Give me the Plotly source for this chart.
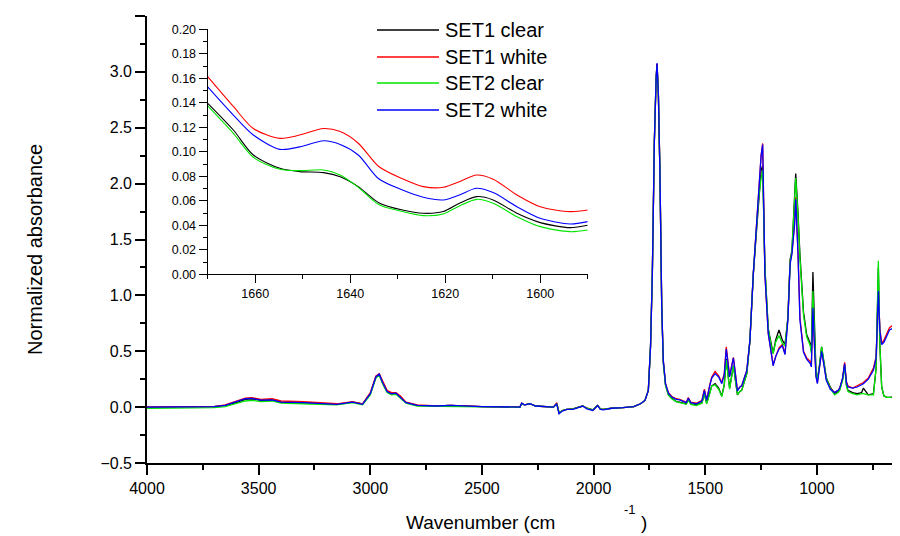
import plotly.graph_objects as go

# ---------------- main spectrum data (wavenumber, cm-1) ----------------
wavenumber = [
    4000, 3800, 3700, 3650, 3600, 3560, 3530, 3490, 3440, 3400,
    3300, 3150, 3080, 3050, 3035, 3000, 2975, 2960, 2945, 2925,
    2905, 2885, 2865, 2840, 2790, 2700, 2640, 2500, 2330, 2322,
    2310, 2285, 2260, 2180, 2165, 2155, 2140, 2120, 2093, 2060,
    2049, 2030, 2004, 1982, 1970, 1957, 1920, 1869, 1820, 1790,
    1770, 1755, 1745, 1737, 1728, 1720, 1716, 1710, 1703, 1695,
    1688, 1678, 1665, 1650, 1630, 1615, 1600, 1585, 1576, 1565,
    1540, 1515, 1504, 1494, 1480, 1471, 1456, 1440, 1426, 1415,
    1406, 1391, 1374, 1356, 1345, 1337, 1314, 1300, 1285, 1262,
    1250, 1243, 1233, 1218, 1205, 1196, 1185, 1170, 1155, 1143,
    1130, 1120, 1112, 1100, 1095, 1085, 1076, 1060, 1046, 1030,
    1025, 1018, 1010, 1004, 998, 990, 979, 968, 958, 940,
    921, 905, 898, 885, 876, 868, 861, 840, 820, 800,
    792, 770, 747, 735, 725, 718, 710, 700, 687, 675,
    655, 645, 636, 628,
]

set1_clear = [
    0.0, 0.0, 0.005, 0.015, 0.04, 0.07, 0.075, 0.06, 0.065, 0.045,
    0.04, 0.025, 0.045, 0.035, 0.025, 0.12, 0.27, 0.295, 0.22, 0.14,
    0.12, 0.125, 0.09, 0.04, 0.015, 0.01, 0.015, 0.005, 0.0, 0.035,
    0.02, 0.03, 0.01, 0.0, 0.03, -0.05, -0.03, -0.02, -0.015, 0.005,
    0.01, -0.01, -0.025, 0.015, -0.015, -0.02, -0.01, -0.005, 0.005, 0.03,
    0.06, 0.15, 0.55, 1.2, 2.38, 2.95, 3.07, 2.8, 2.09, 0.9,
    0.4, 0.2, 0.11, 0.08, 0.05, 0.045, 0.035, 0.03, 0.07, 0.03,
    0.02, 0.04, 0.12, 0.035, 0.13, 0.19, 0.21, 0.17, 0.1, 0.2,
    0.43, 0.17, 0.37, 0.11, 0.14, 0.15, 0.3, 0.6, 1.19, 1.85,
    2.12, 2.16, 1.25, 0.7, 0.55, 0.48, 0.6, 0.69, 0.6, 0.56,
    0.8, 1.32, 1.4, 1.85, 2.09, 1.75, 1.36, 0.85, 0.65, 0.57,
    0.5, 1.21, 0.6, 0.3, 0.25, 0.35, 0.54, 0.4, 0.26, 0.18,
    0.12, 0.14, 0.16, 0.25, 0.38, 0.2, 0.15, 0.13, 0.12, 0.13,
    0.17, 0.11, 0.12, 0.35, 1.25, 0.55, 0.18, 0.1, 0.088, 0.088,
    0.09, 0.15, 0.27, 0.26,
]

set1_white = [
    0.0, 0.0, 0.005, 0.02, 0.05, 0.08, 0.085, 0.07, 0.075, 0.055,
    0.048, 0.03, 0.05, 0.035, 0.03, 0.13, 0.28, 0.3, 0.23, 0.15,
    0.13, 0.13, 0.1, 0.045, 0.02, 0.012, 0.015, 0.005, 0.0, 0.035,
    0.02, 0.03, 0.01, 0.0, 0.04, -0.05, -0.03, -0.02, -0.015, 0.005,
    0.01, -0.01, -0.025, 0.015, -0.015, -0.02, -0.01, -0.005, 0.005, 0.03,
    0.06, 0.15, 0.55, 1.2, 2.38, 2.95, 3.07, 2.8, 2.09, 0.9,
    0.42, 0.21, 0.13, 0.095, 0.075, 0.07, 0.055, 0.045, 0.085, 0.045,
    0.035, 0.06, 0.16, 0.065, 0.2, 0.27, 0.32, 0.28, 0.22, 0.3,
    0.54, 0.28, 0.445, 0.15, 0.18, 0.19, 0.33, 0.6, 1.19, 1.94,
    2.25, 2.36, 1.19, 0.66, 0.48, 0.38, 0.45, 0.53, 0.56, 0.48,
    0.8, 1.3, 1.38, 1.65, 1.88, 1.4, 0.8, 0.5, 0.44, 0.41,
    0.38, 0.86, 0.5, 0.28, 0.22, 0.33, 0.5, 0.38, 0.25, 0.17,
    0.13, 0.15, 0.17, 0.26, 0.4, 0.23, 0.19, 0.17, 0.19, 0.21,
    0.22, 0.26, 0.35, 0.45, 1.04, 0.7, 0.57, 0.6, 0.66, 0.71,
    0.74, 0.76, 0.77, 0.78,
]

set2_clear = [
    -0.01, -0.01, -0.005, 0.005, 0.03, 0.055, 0.06, 0.05, 0.055, 0.035,
    0.03, 0.02, 0.04, 0.03, 0.02, 0.11, 0.26, 0.285, 0.21, 0.13,
    0.11, 0.115, 0.08, 0.035, 0.01, 0.008, 0.012, 0.003, -0.002, 0.03,
    0.02, 0.03, 0.01, 0.0, 0.03, -0.05, -0.03, -0.02, -0.015, 0.005,
    0.01, -0.01, -0.025, 0.015, -0.015, -0.02, -0.01, -0.005, 0.005, 0.03,
    0.06, 0.15, 0.55, 1.2, 2.38, 2.95, 3.05, 2.8, 2.09, 0.9,
    0.4, 0.19, 0.11, 0.075, 0.05, 0.04, 0.03, 0.025, 0.065, 0.025,
    0.015, 0.035, 0.12, 0.03, 0.12, 0.19, 0.2, 0.16, 0.094, 0.2,
    0.42, 0.16, 0.37, 0.113, 0.14, 0.15, 0.3, 0.6, 1.19, 1.85,
    2.05, 2.12, 1.25, 0.7, 0.55, 0.48, 0.58, 0.64, 0.57, 0.55,
    0.8, 1.3, 1.4, 1.82, 2.05, 1.72, 1.33, 0.82, 0.63, 0.55,
    0.48, 1.04, 0.58, 0.3, 0.25, 0.35, 0.54, 0.4, 0.26, 0.17,
    0.11, 0.13, 0.15, 0.24, 0.37, 0.19, 0.14, 0.12, 0.11, 0.12,
    0.12, 0.11, 0.11, 0.35, 1.31, 0.55, 0.18, 0.1, 0.088, 0.088,
    0.09, 0.15, 0.27, 0.26,
]

set2_white = [
    0.0, 0.0, 0.005, 0.015, 0.045, 0.075, 0.078, 0.062, 0.065, 0.045,
    0.04, 0.025, 0.045, 0.035, 0.025, 0.12, 0.27, 0.295, 0.22, 0.14,
    0.12, 0.125, 0.09, 0.04, 0.015, 0.01, 0.015, 0.005, 0.0, 0.035,
    0.02, 0.03, 0.01, 0.0, 0.03, -0.06, -0.035, -0.02, -0.02, 0.005,
    0.01, -0.015, -0.03, 0.015, -0.02, -0.025, -0.01, -0.005, 0.005, 0.03,
    0.06, 0.15, 0.55, 1.2, 2.38, 2.95, 3.08, 2.8, 2.09, 0.9,
    0.42, 0.21, 0.125, 0.09, 0.07, 0.065, 0.05, 0.04, 0.08, 0.04,
    0.03, 0.055, 0.15, 0.06, 0.19, 0.26, 0.3, 0.27, 0.21, 0.29,
    0.52, 0.27, 0.44, 0.145, 0.18, 0.19, 0.327, 0.6, 1.19, 1.94,
    2.25, 2.35, 1.19, 0.66, 0.47, 0.37, 0.45, 0.52, 0.55, 0.47,
    0.78, 1.28, 1.37, 1.63, 1.86, 1.38, 0.78, 0.49, 0.43, 0.39,
    0.36, 0.89, 0.5, 0.27, 0.21, 0.32, 0.5, 0.37, 0.24, 0.16,
    0.13, 0.15, 0.17, 0.26, 0.39, 0.22, 0.18, 0.17, 0.18, 0.2,
    0.21, 0.25, 0.33, 0.44, 1.04, 0.68, 0.56, 0.58, 0.63, 0.69,
    0.71, 0.73, 0.74, 0.75,
]

# ---------------- inset data (zoom 1670-1590 cm-1) ----------------
inset_wavenumber = [1670, 1664.6, 1660.4, 1654.8, 1650.6, 1645.6, 1642.1, 1638.3, 1634,
                    1629, 1624.6, 1620.4, 1617, 1613.4, 1609.9, 1604.9, 1600, 1593.7, 1590]
inset_set1_clear = [0.1396, 0.1178, 0.0974, 0.0865, 0.0838, 0.0830, 0.0797, 0.0716, 0.0585,
                    0.0525, 0.0498, 0.0512, 0.0580, 0.0634, 0.0607, 0.0498, 0.0422, 0.0381, 0.0400]
inset_set1_white = [0.1614, 0.1370, 0.1190, 0.1110, 0.1137, 0.1190, 0.1165, 0.1070, 0.0880,
                    0.0780, 0.0716, 0.0710, 0.0756, 0.0810, 0.0776, 0.0648, 0.0552, 0.0512, 0.0525]
inset_set2_clear = [0.1374, 0.1150, 0.0955, 0.0857, 0.0846, 0.0852, 0.0810, 0.0710, 0.0570,
                    0.0512, 0.0479, 0.0493, 0.0558, 0.0612, 0.0580, 0.0470, 0.0389, 0.0348, 0.0362]
inset_set2_white = [0.1530, 0.1300, 0.1137, 0.1020, 0.1040, 0.1090, 0.1060, 0.0974, 0.0780,
                    0.0688, 0.0629, 0.0607, 0.0648, 0.0702, 0.0667, 0.0552, 0.0457, 0.0411, 0.0430]

series_names = ["SET1 clear", "SET1 white", "SET2 clear", "SET2 white"]
series_colors = ["#000000", "#ff0000", "#00e600", "#0000ff"]
main_series = [set1_clear, set1_white, set2_clear, set2_white]
inset_series = [inset_set1_clear, inset_set1_white, inset_set2_clear, inset_set2_white]

FONT = "Liberation Sans, Arial, sans-serif"

fig = go.Figure()
for name, color, ys in zip(series_names, series_colors, main_series):
    fig.add_trace(go.Scatter(x=wavenumber, y=ys, mode="lines", name=name,
                             line=dict(color=color, width=1.3), showlegend=False,
                             xaxis="x", yaxis="y"))
for name, color, ys in zip(series_names, series_colors, inset_series):
    fig.add_trace(go.Scatter(x=inset_wavenumber, y=ys, mode="lines", name=name,
                             line=dict(color=color, width=1.1, shape="spline", smoothing=0.8),
                             showlegend=False, xaxis="x2", yaxis="y2"))

# The page body has an 8px margin, so the figure sits at (8, 8) in the window.
OFF = 8
FIG_W, FIG_H = 900 - OFF, 536 - OFF
# plot area geometry in window pixels
L, R, T, B = 147, 900, 16, 463
W, H = R - L, B - T
def px(xp):
    return (xp - L) / W
def py(yp):
    return (B - yp) / H

main_axis = dict(showline=True, linecolor="black", linewidth=1.6, ticks="outside",
                 ticklen=10, tickwidth=1.6, tickcolor="black", showgrid=False,
                 zeroline=False, tickfont=dict(family=FONT, size=16, color="black"))
inset_axis = dict(showline=True, linecolor="black", linewidth=1.3, ticks="outside",
                  ticklen=8, tickwidth=1.3, tickcolor="black", showgrid=False,
                  zeroline=False, tickfont=dict(family=FONT, size=12.5, color="black"))

fig.update_layout(
    width=FIG_W, height=FIG_H,
    margin=dict(l=L - OFF, r=(OFF + FIG_W) - R, t=T - OFF, b=(OFF + FIG_H) - B),
    paper_bgcolor="white", plot_bgcolor="white",
    font=dict(family=FONT, color="black"),
    xaxis=dict(main_axis, range=[4000, 628], tick0=4000, dtick=500, domain=[0, 1],
               minor=dict(dtick=250, ticklen=5, tickwidth=1.6, tickcolor="black", ticks="outside")),
    yaxis=dict(main_axis, range=[-0.5, 3.5], tick0=0, dtick=0.5, tickformat=".1f", domain=[0, 1],
               minor=dict(dtick=0.25, ticklen=5, tickwidth=1.6, tickcolor="black", ticks="outside")),
    xaxis2=dict(inset_axis, range=[1670, 1590], tick0=1600, dtick=20,
                domain=[px(207.7), px(587.7)], anchor="y2",
                minor=dict(dtick=10, ticklen=4, tickwidth=1.3, tickcolor="black", ticks="outside")),
    yaxis2=dict(inset_axis, range=[0, 0.2], tick0=0, dtick=0.02, tickformat=".2f",
                domain=[py(274.3), py(29.3)], anchor="x2",
                minor=dict(dtick=0.01, ticklen=4, tickwidth=1.3, tickcolor="black", ticks="outside")),
)

# manual legend (long line swatches like the original)
legend_rows = [30, 57, 83, 110]
for name, color, yrow in zip(series_names, series_colors, legend_rows):
    fig.add_shape(type="line", xref="paper", yref="paper",
                  x0=px(377), x1=px(439), y0=py(yrow), y1=py(yrow),
                  line=dict(color=color, width=1.3))
    fig.add_annotation(xref="paper", yref="paper", x=px(443), y=py(yrow),
                       xanchor="left", yanchor="middle", showarrow=False,
                       text=name, font=dict(family=FONT, size=20, color="black"))

# axis titles
fig.add_annotation(xref="paper", yref="paper", x=px(35), y=py(250), textangle=-90,
                   xanchor="center", yanchor="middle", showarrow=False,
                   text="Normalized absorbance", font=dict(family=FONT, size=20, color="black"))
fig.add_annotation(xref="paper", yref="paper", x=px(404), y=py(522),
                   xanchor="left", yanchor="middle", showarrow=False,
                   text="Wavenumber (cm", font=dict(family=FONT, size=19, color="black"))
fig.add_annotation(xref="paper", yref="paper", x=px(630), y=py(509),
                   xanchor="center", yanchor="middle", showarrow=False,
                   text="-1", font=dict(family=FONT, size=13, color="black"))
fig.add_annotation(xref="paper", yref="paper", x=px(639), y=py(522),
                   xanchor="left", yanchor="middle", showarrow=False,
                   text=")", font=dict(family=FONT, size=19, color="black"))

fig.write_html("out.html")
